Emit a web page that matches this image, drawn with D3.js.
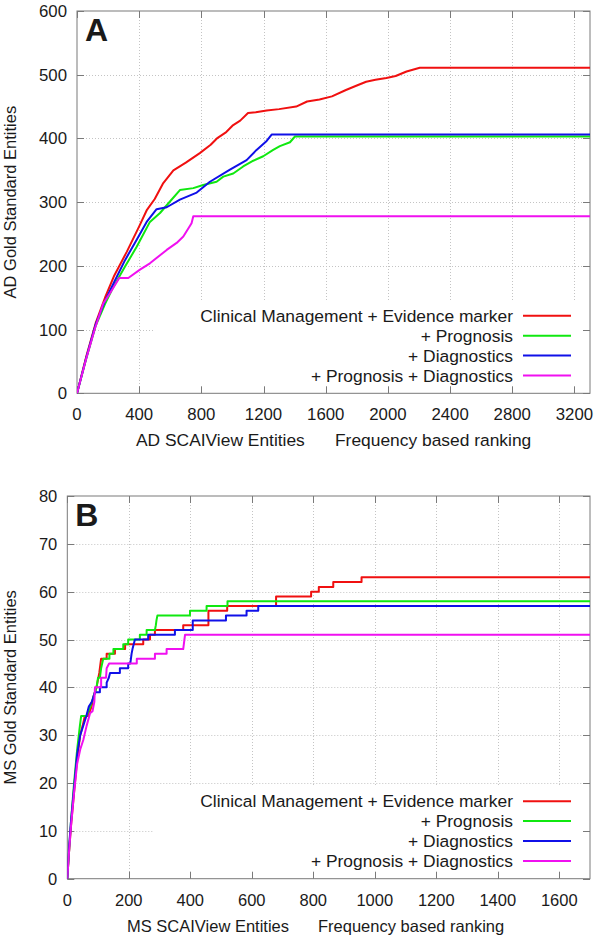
<!DOCTYPE html>
<html><head><meta charset="utf-8">
<script src="https://cdn.jsdelivr.net/npm/d3@7"></script>
<style>
body{margin:0;background:#fff}
text{font-family:"Liberation Sans",Arial,sans-serif;fill:#1a1a1a}
</style>
</head><body>
<svg id="chart" width="600" height="939"></svg>
<script>
// ---------- data ----------
const seriesNames = ["Clinical Management + Evidence marker", "+ Prognosis", "+ Diagnostics", "+ Prognosis + Diagnostics"];
const seriesColors = ["#f01010", "#10e810", "#1010e8", "#f010f0"];

// Panel A (AD)
const adXTicks = [0, 400, 800, 1200, 1600, 2000, 2400, 2800, 3200];
const adYTicks = [0, 100, 200, 300, 400, 500, 600];
const adClinical = [[0,0],[60,58],[120,110],[180,150],[240,185],[320,222],[400,262],[450,288],[500,305],[555,330],[620,350],[700,362],[790,377],[860,390],[900,400],[960,410],[1000,420],[1050,428],[1100,440],[1150,441],[1220,444],[1300,446],[1410,450],[1480,458],[1560,461],[1640,466],[1730,476],[1800,483],[1860,489],[1920,492],[1990,495],[2050,498],[2120,505],[2205,511],[3300,511]];
const adPrognosis = [[0,0],[60,55],[120,106],[180,140],[234,167],[309,199],[384,230],[469,269],[534,283],[598,301],[662,319],[748,322],[812,327],[898,332],[941,340],[1005,345],[1069,356],[1134,365],[1198,372],[1262,382],[1305,388],[1370,394],[1402,403],[3300,403]];
const adDiagnostics = [[0,0],[60,56],[120,108],[180,145],[240,175],[309,209],[384,241],[448,269],[512,289],[577,292],[662,304],[770,315],[855,332],[984,351],[1091,366],[1155,382],[1220,396],[1252,406],[3300,406]];
const adBoth = [[0,0],[60,55],[116,102],[169,141],[212,157],[272,181],[330,181],[405,194],[469,204],[577,225],[641,236],[684,246],[737,267],[748,278],[3300,278]];

// Panel B (MS)
const msXTicks = [0, 200, 400, 600, 800, 1000, 1200, 1400, 1600];
const msYTicks = [0, 10, 20, 30, 40, 50, 60, 70, 80];
const msClinical = [[0,0],[5,5],[12,11],[22,18],[32,25],[42,30],[50,32],[57,34],[68,34],[79,36],[85,38],[95,40],[104,43],[106,44],[110,46],[128,46],[128,47],[155,47],[155,48],[188,48],[188,49],[247,49],[247,50],[269,50],[269,51],[285,51],[285,52],[377,52],[377,53],[459,53],[459,56],[520,56],[520,57],[679,57],[679,59],[793,59],[793,60],[818,60],[818,61],[865,61],[865,62],[957,62],[957,63],[1700,63]];
const msPrognosis = [[0,0],[5,5],[12,12],[22,20],[32,27],[41,32],[45,34],[62,34],[75,36],[85,38],[95,40],[100,42],[106,42],[110,44],[117,46],[137,46],[137,47],[150,47],[150,48],[182,48],[182,49],[198,49],[198,50],[236,50],[236,51],[258,51],[258,52],[285,52],[288,53],[290,54],[293,55],[399,55],[399,56],[453,56],[453,57],[521,57],[521,58],[1700,58]];
const msDiagnostics = [[0,0],[5,6],[12,12],[22,19],[32,26],[42,30],[52,32],[62,34],[70,36],[80,37],[90,39],[106,39],[106,40],[128,40],[128,41],[135,42],[139,43],[171,43],[171,44],[198,44],[198,45],[205,45],[209,47],[212,48],[220,50],[263,50],[263,51],[350,51],[350,52],[408,52],[408,54],[516,54],[516,55],[583,55],[583,56],[621,56],[621,57],[1700,57]];
const msBoth = [[0,0],[5,5],[12,11],[22,18],[32,24],[42,27],[52,29],[63,32],[74,34.6],[82,35],[88,37],[90,40],[110,40],[110,42],[126,42],[128,44],[136,45],[226,45],[226,46],[285,46],[285,47],[323,47],[323,48],[377,48],[383,51],[1700,51]];

// ---------- drawing ----------
const svg = d3.select("#chart");
const LEG_FS = 17.4;

function drawPanel(cfg) {
  const g = svg.append("g");
  const x = d3.scaleLinear().domain(cfg.xDomain).range([cfg.left, cfg.right]);
  const y = d3.scaleLinear().domain(cfg.yDomain).range([cfg.bottom, cfg.top]);
  const clipId = "clip" + cfg.letter;
  svg.append("clipPath").attr("id", clipId).append("rect")
    .attr("x", cfg.left).attr("y", cfg.top - 2)
    .attr("width", cfg.right - cfg.left + 1).attr("height", cfg.bottom - cfg.top + 3);

  // grid
  const grid = g.append("g").attr("stroke", "#c4c4c4").attr("stroke-width", 1).attr("stroke-dasharray", "1,2");
  grid.selectAll("line.gx").data(cfg.xTicks.filter(d => d > 0)).join("line")
    .attr("x1", d => Math.round(x(d)) + 0.5).attr("x2", d => Math.round(x(d)) + 0.5)
    .attr("y1", cfg.top).attr("y2", cfg.bottom);
  grid.selectAll("line.gy").data(cfg.yTicks.filter(d => d > 0 && d < cfg.yDomain[1])).join("line")
    .attr("y1", d => Math.round(y(d)) + 0.5).attr("y2", d => Math.round(y(d)) + 0.5)
    .attr("x1", cfg.left).attr("x2", cfg.right);

  // legend box (opaque)
  const legTop = cfg.bottom - 93;
  g.append("rect").attr("x", 153).attr("y", legTop)
    .attr("width", cfg.right - 153).attr("height", cfg.bottom - legTop).attr("fill", "#fff");

  // border + ticks (mirrored, inward)
  const ax = g.append("g").attr("stroke", "#7a7a7a").attr("stroke-width", 1).attr("fill", "none");
  ax.append("rect").attr("x", cfg.left).attr("y", cfg.top)
    .attr("width", cfg.right - cfg.left).attr("height", cfg.bottom - cfg.top);
  const tl = 7;
  cfg.xTicks.forEach(d => {
    const xx = Math.round(x(d)) + 0.5;
    ax.append("line").attr("x1", xx).attr("x2", xx).attr("y1", cfg.bottom).attr("y2", cfg.bottom - tl);
    ax.append("line").attr("x1", xx).attr("x2", xx).attr("y1", cfg.top).attr("y2", cfg.top + tl);
  });
  cfg.yTicks.forEach(d => {
    const yy = Math.round(y(d)) + 0.5;
    ax.append("line").attr("y1", yy).attr("y2", yy).attr("x1", cfg.left).attr("x2", cfg.left + tl);
    ax.append("line").attr("y1", yy).attr("y2", yy).attr("x1", cfg.right).attr("x2", cfg.right - tl);
  });

  // tick labels
  g.selectAll("text.xt").data(cfg.xTicks).join("text")
    .attr("x", d => x(d)).attr("y", cfg.bottom + 27)
    .attr("text-anchor", "middle").attr("font-size", cfg.tickFS).text(d => d);
  g.selectAll("text.yt").data(cfg.yTicks).join("text")
    .attr("x", cfg.left - 10).attr("y", d => y(d) + 6)
    .attr("text-anchor", "end").attr("font-size", cfg.tickFS).text(d => d);

  // axis titles
  g.append("text").attr("transform", `translate(16,${(cfg.top + cfg.bottom) / 2}) rotate(-90)`)
    .attr("text-anchor", "middle").attr("font-size", 16.5).text(cfg.yTitle);
  g.append("text").attr("x", cfg.xTitle1X).attr("y", cfg.bottom + 53)
    .attr("font-size", cfg.titleFS).text(cfg.xTitle1);
  g.append("text").attr("x", cfg.xTitle2X).attr("y", cfg.bottom + 53)
    .attr("font-size", cfg.titleFS).text(cfg.xTitle2);

  // curves
  const line = d3.line().x(d => x(d[0])).y(d => y(d[1]));
  g.append("g").attr("clip-path", `url(#${clipId})`)
    .selectAll("path").data(cfg.series).join("path")
    .attr("d", d => line(d)).attr("fill", "none")
    .attr("stroke", (d, i) => seriesColors[i]).attr("stroke-width", 2)
    .attr("stroke-linejoin", "round");

  // legend entries
  seriesNames.forEach((name, i) => {
    const ly = cfg.bottom - 77.5 + i * 19.9;
    g.append("text").attr("x", 513).attr("y", ly + 6).attr("text-anchor", "end")
      .attr("font-size", LEG_FS).text(name);
    g.append("line").attr("x1", 523).attr("x2", 571).attr("y1", ly).attr("y2", ly)
      .attr("stroke", seriesColors[i]).attr("stroke-width", 2);
  });

  // panel letter
  g.append("text").attr("x", cfg.left + 8).attr("y", cfg.top + 30)
    .attr("font-size", 32).attr("font-weight", "bold").attr("fill", "#000").text(cfg.letter);
}

drawPanel({
  letter: "A", left: 77, right: 590, top: 11, bottom: 393.3,
  xDomain: [0, 3300], yDomain: [0, 600], xTicks: adXTicks, yTicks: adYTicks,
  series: [adClinical, adPrognosis, adDiagnostics, adBoth],
  tickFS: 16.8, titleFS: 17.4,
  yTitle: "AD Gold Standard Entities",
  xTitle1: "AD SCAIView Entities", xTitle1X: 136, xTitle2: "Frequency based ranking", xTitle2X: 335
});
drawPanel({
  letter: "B", left: 67.3, right: 590, top: 496, bottom: 878.7,
  xDomain: [0, 1700], yDomain: [0, 80], xTicks: msXTicks, yTicks: msYTicks,
  series: [msClinical, msPrognosis, msDiagnostics, msBoth],
  tickFS: 16.5, titleFS: 16.5,
  yTitle: "MS Gold Standard Entities",
  xTitle1: "MS SCAIView Entities", xTitle1X: 127, xTitle2: "Frequency based ranking", xTitle2X: 318
});
</script>
</body></html>
